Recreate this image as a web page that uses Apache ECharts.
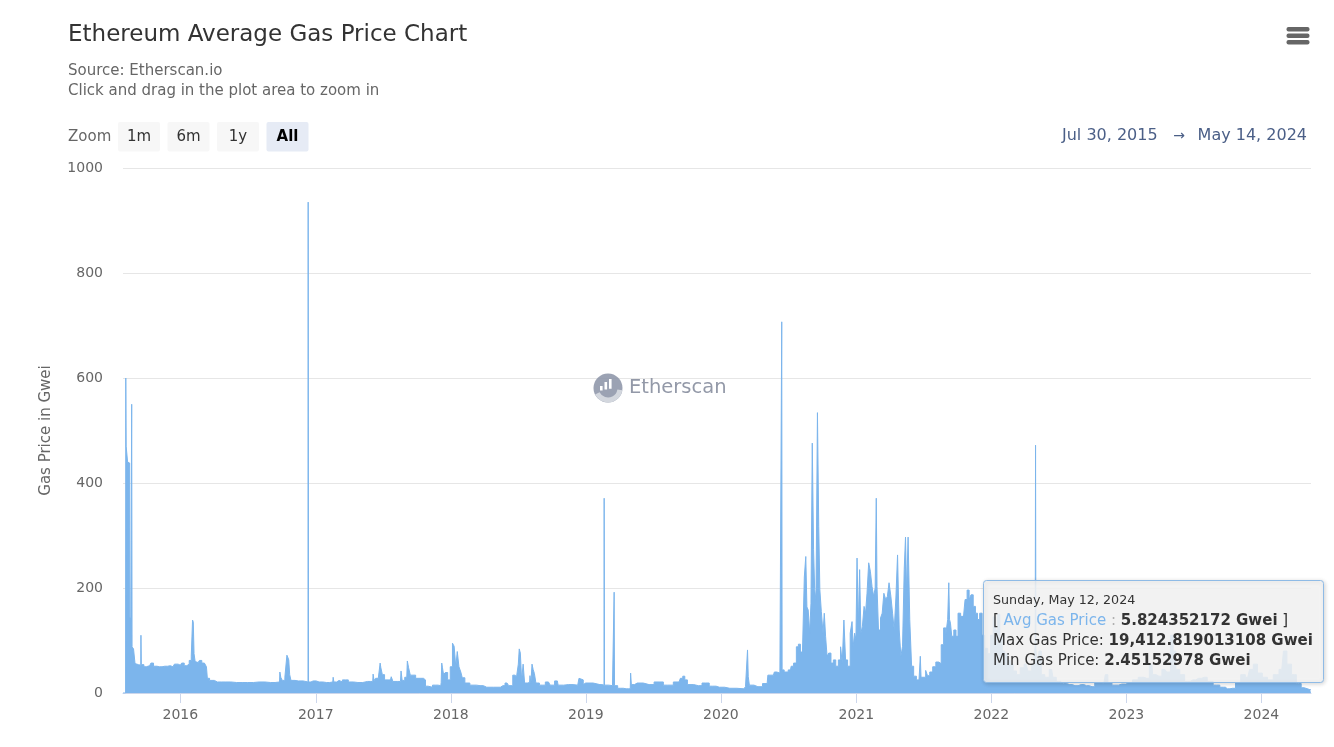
<!DOCTYPE html>
<html>
<head>
<meta charset="utf-8">
<script src="https://cdn.jsdelivr.net/npm/echarts@6/dist/echarts.min.js"></script>
<style>
html,body{margin:0;padding:0;background:#fff;}
#chart{width:1334px;height:747px;}
</style>
</head>
<body>
<div id="chart"></div>
<script>
// ---------------- data ----------------
const dates = [
'2015-07-30','2015-08-06','2015-08-07','2015-08-08','2015-08-11','2015-08-12','2015-08-17','2015-08-18','2015-08-22','2015-08-23',
'2015-08-24','2015-08-31','2015-09-01','2015-09-10','2015-09-16','2015-09-17','2015-09-18','2015-10-01','2015-10-10','2015-10-17',
'2015-10-24','2015-11-05','2015-11-20','2015-12-05','2015-12-12','2015-12-20','2016-01-01','2016-01-08','2016-01-15','2016-01-22',
'2016-01-28','2016-02-02','2016-02-04','2016-02-06','2016-02-08','2016-02-12','2016-02-18','2016-02-25','2016-03-02','2016-03-10',
'2016-03-13','2016-03-15','2016-03-25','2016-04-10','2016-05-01','2016-06-01','2016-07-01','2016-08-01','2016-09-01','2016-09-25',
'2016-09-27','2016-09-30','2016-10-05','2016-10-14','2016-10-16','2016-10-19','2016-10-21','2016-10-24','2016-10-28','2016-11-15',
'2016-12-11','2016-12-12','2016-12-13','2016-12-25','2017-01-10','2017-01-30','2017-02-16','2017-02-18','2017-02-20','2017-03-05',
'2017-03-10','2017-03-18','2017-03-28','2017-04-01','2017-04-25','2017-05-21','2017-06-04','2017-06-06','2017-06-09','2017-06-15',
'2017-06-23','2017-06-25','2017-06-27','2017-07-03','2017-07-09','2017-07-22','2017-07-26','2017-07-31','2017-08-18','2017-08-21',
'2017-08-24','2017-09-04','2017-09-07','2017-09-11','2017-09-16','2017-09-25','2017-10-01','2017-10-19','2017-10-22','2017-10-27',
'2017-11-05','2017-11-20','2017-12-05','2017-12-07','2017-12-08','2017-12-11','2017-12-14','2017-12-20','2017-12-27','2018-01-03',
'2018-01-08','2018-01-12','2018-01-17','2018-01-20','2018-01-26','2018-01-30','2018-02-03','2018-02-13','2018-03-02','2018-03-21',
'2018-04-08','2018-05-15','2018-05-22','2018-06-02','2018-06-11','2018-06-24','2018-07-01','2018-07-04','2018-07-06','2018-07-10',
'2018-07-13','2018-07-18','2018-07-21','2018-08-02','2018-08-04','2018-08-07','2018-08-10','2018-08-13','2018-08-17','2018-08-21',
'2018-09-05','2018-09-22','2018-10-01','2018-10-16','2018-10-20','2018-11-15','2018-12-10','2018-12-17','2018-12-20','2018-12-30',
'2019-01-02','2019-02-08','2019-02-19','2019-02-20','2019-02-21','2019-03-14','2019-03-18','2019-03-19','2019-03-20','2019-04-05',
'2019-04-20','2019-05-01','2019-05-03','2019-05-05','2019-05-20','2019-06-21','2019-07-18','2019-08-10','2019-09-10','2019-09-17',
'2019-09-23','2019-09-28','2019-10-07','2019-11-01','2019-11-21','2019-12-10','2019-12-28','2020-01-25','2020-03-03','2020-03-12',
'2020-03-14','2020-03-16','2020-03-20','2020-04-10','2020-05-05','2020-05-09','2020-05-22','2020-05-27','2020-06-04','2020-06-13',
'2020-06-14','2020-06-15','2020-06-25','2020-07-07','2020-07-11','2020-07-20','2020-07-26','2020-07-31','2020-08-06','2020-08-11',
'2020-08-16','2020-08-19','2020-08-22','2020-08-26','2020-08-30','2020-09-02','2020-09-06','2020-09-09','2020-09-12','2020-09-16',
'2020-09-20','2020-09-23','2020-09-26','2020-10-01','2020-10-05','2020-10-08','2020-10-12','2020-10-16','2020-10-21','2020-10-28',
'2020-11-03','2020-11-10','2020-11-17','2020-11-22','2020-11-26','2020-12-01','2020-12-05','2020-12-12','2020-12-19','2020-12-22',
'2020-12-25','2020-12-30','2021-01-01','2021-01-05','2021-01-08','2021-01-12','2021-01-15','2021-01-20','2021-01-24','2021-01-28',
'2021-02-01','2021-02-06','2021-02-10','2021-02-15','2021-02-19','2021-02-23','2021-02-25','2021-02-27','2021-03-05','2021-03-10',
'2021-03-14','2021-03-19','2021-03-24','2021-03-28','2021-04-02','2021-04-07','2021-04-11','2021-04-16','2021-04-20','2021-04-25',
'2021-04-29','2021-05-04','2021-05-08','2021-05-13','2021-05-15','2021-05-19','2021-05-23','2021-05-28','2021-06-02','2021-06-08',
'2021-06-17','2021-06-22','2021-06-24','2021-06-26','2021-07-05','2021-07-10','2021-07-15','2021-07-22','2021-07-31','2021-08-08',
'2021-08-15','2021-08-22','2021-08-28','2021-09-03','2021-09-07','2021-09-09','2021-09-11','2021-09-14','2021-09-18','2021-09-25',
'2021-09-30','2021-10-06','2021-10-14','2021-10-20','2021-10-24','2021-10-31','2021-11-04','2021-11-10','2021-11-16','2021-11-22',
'2021-11-27','2021-12-04','2021-12-10','2021-12-18','2021-12-26','2022-01-03','2022-01-09','2022-01-15','2022-01-21','2022-01-27',
'2022-02-03','2022-02-10','2022-02-17','2022-02-25','2022-03-05','2022-03-15','2022-03-25','2022-04-05','2022-04-15','2022-04-25',
'2022-04-29','2022-04-30','2022-05-01','2022-05-02','2022-05-08','2022-05-12','2022-05-20','2022-05-31','2022-06-13','2022-06-20',
'2022-07-01','2022-07-15','2022-08-01','2022-08-15','2022-09-01','2022-09-15','2022-09-30','2022-10-15','2022-11-01','2022-11-09',
'2022-11-15','2022-12-01','2022-12-20','2023-01-10','2023-01-25','2023-02-10','2023-02-25','2023-03-11','2023-03-15','2023-03-30',
'2023-04-15','2023-04-25','2023-05-05','2023-05-10','2023-05-20','2023-05-31','2023-06-15','2023-06-30','2023-07-15','2023-07-31',
'2023-08-15','2023-09-01','2023-09-20','2023-10-01','2023-10-15','2023-10-31','2023-11-12','2023-11-25','2023-12-05','2023-12-15',
'2023-12-28','2024-01-10','2024-01-25','2024-02-10','2024-02-25','2024-03-05','2024-03-15','2024-03-30','2024-04-10','2024-04-25',
'2024-05-05','2024-05-12','2024-05-13','2024-05-14'
];
const avgGasPrice = [
0,0,600,470,472,440,438,145,140,550,
88,84,56,54,53,110,54,50,52,57,
51,50,51,52,50,55,53,57,52,55,
62,70,139,135,75,60,58,62,57,58,
50,28,24,21,21,20,20,21,20,21,
40,30,24,30,72,68,63,35,24,23,
21,935,21,23,21,20,21,30,21,24,
21,25,25,21,20,22,22,36,24,28,
30,57,48,35,25,25,31,22,22,42,
24,30,61,48,34,34,28,28,25,13,
11,15,14,20,57,48,35,39,25,50,
95,89,50,79,50,40,29,19,15,14,
11,11,14,19,14,34,30,55,84,76,
24,55,19,20,33,18,55,45,37,19,
15,21,15,23,15,16,15,28,25,16,
19,16,15,371,15,14,14,192,14,9,
8,8,38,16,19,16,21,15,21,28,
32,25,16,14,19,13,11,9,8,12,
82,31,15,12,18,34,34,40,38,42,
707,44,40,44,51,57,88,93,78,76,
221,260,164,158,114,171,476,273,197,178,
534,317,197,155,114,152,108,70,76,57,
63,51,63,88,57,139,63,51,114,136,
88,114,102,257,127,235,114,127,165,152,
190,248,232,203,184,200,371,203,120,143,
152,190,178,184,210,184,152,120,181,263,
120,70,89,235,297,190,297,140,51,32,
25,26,70,30,30,43,33,40,50,59,
56,92,124,112,140,210,140,133,108,120,
108,152,146,140,178,196,178,187,165,152,
140,152,110,85,75,110,145,120,150,105,
80,75,62,55,42,35,48,55,42,55,
70,90,472,85,55,80,35,30,45,30,
22,18,16,14,16,14,12,20,18,35,
20,15,17,20,25,30,28,55,35,32,
45,40,110,80,45,35,22,25,28,30,
22,15,11,8,9,20,35,30,45,55,
38,30,25,35,45,80,55,35,18,10,
8,5.824352172,7.5,6
];
const yTicks = [0, 200, 400, 600, 800, 1000];
const yearTicks = ['2016-01-01','2017-01-01','2018-01-01','2019-01-01','2020-01-01','2021-01-01','2022-01-01','2023-01-01','2024-01-01'];
const xRange = ['2015-07-30', '2024-05-14'];
const zoomButtons = ['1m', '6m', '1y', 'All'];
const tipDate = '2024-05-12';
const tipMaxGas = '19,412.819013108';
const tipMinGas = '2.45152978';

// ---------------- helpers ----------------
function day(s) { const p = s.split('-').map(Number); return new Date(p[0], p[1] - 1, p[2]).getTime(); }
const seriesData = dates.map((d, i) => [day(d), avgGasPrice[i]]);
const yearTs = yearTicks.map(day);

const FONT = 'DejaVu Sans';
const tipIdx = dates.indexOf(tipDate);
const tipD = new Date(day(tipDate));
const dayNames = ['Sunday','Monday','Tuesday','Wednesday','Thursday','Friday','Saturday'];
const monNames = ['Jan','Feb','Mar','Apr','May','Jun','Jul','Aug','Sep','Oct','Nov','Dec'];
const tipHeader = dayNames[tipD.getDay()] + ', ' + monNames[tipD.getMonth()] + ' ' + tipD.getDate() + ', ' + tipD.getFullYear();
function fmtRange(s) { const d = new Date(day(s)); return monNames[d.getMonth()] + ' ' + d.getDate() + ', ' + d.getFullYear(); }

// ---------------- graphic overlays ----------------
const graphics = [];
function txt(x, y, text, opt) {
  const o = Object.assign({ fontSize: 15, fill: '#666', align: 'left', fontWeight: 'normal' }, opt || {});
  return { type: 'text', x: x, y: y, z: 50, silent: true,
    style: { text: text, fontFamily: FONT, fontSize: o.fontSize, fontWeight: o.fontWeight, fill: o.fill,
      align: o.align, textAlign: o.align, verticalAlign: 'middle', textVerticalAlign: 'middle' } };
}
graphics.push(txt(68, 137, 'Zoom', { fill: '#666' }));
zoomButtons.forEach((b, i) => {
  const x0 = 118 + i * 49.5;
  const sel = b === 'All';
  graphics.push({ type: 'rect', z: 49, silent: true, shape: { x: x0, y: 122, width: 42, height: 29.5, r: 2 },
    style: { fill: sel ? '#e6ebf5' : '#f7f7f7' } });
  graphics.push(txt(x0 + 21, 137, b, { align: 'center', fill: sel ? '#000' : '#333', fontWeight: sel ? 'bold' : 'normal' }));
});
graphics.push(txt(1062, 136, fmtRange(xRange[0]), { fontSize: 16, fill: '#4b5f87' }));
graphics.push(txt(1179, 136, '\u2192', { fontSize: 14, fill: '#4b5f87', align: 'center' }));
graphics.push(txt(1307, 136, fmtRange(xRange[1]), { fontSize: 16, fill: '#4b5f87', align: 'right' }));
[27, 33.5, 40].forEach(y => graphics.push({ type: 'rect', z: 50, silent: true,
  shape: { x: 1286.5, y: y, width: 23, height: 4.5, r: 2 }, style: { fill: '#666' } }));
graphics.push({ type: 'circle', z: 1, silent: true, shape: { cx: 608, cy: 388, r: 14.5 }, style: { fill: '#8a92a6', opacity: 0.85 } });
graphics.push({ type: 'sector', z: 1, silent: true, shape: { cx: 608, cy: 388, r: 14.5, r0: 9.5, startAngle: 0.05 * Math.PI, endAngle: 0.85 * Math.PI },
  style: { fill: '#d3d7de' } });
[[600, 386, 6], [604.5, 382, 10], [609, 379, 13]].forEach(b => graphics.push({ type: 'rect', z: 1, silent: true,
  shape: { x: b[0], y: b[1], width: 2.6, height: b[2] * 0.75 }, style: { fill: '#ffffff' } }));
graphics.push({ type: 'text', z: 1, silent: true, x: 629, y: 388,
  style: { text: 'Etherscan', fontFamily: FONT, fontSize: 19.5, fill: '#9399a8', align: 'left', textAlign: 'left', verticalAlign: 'middle', textVerticalAlign: 'middle' } });
graphics.push({ type: 'rect', z: 100, silent: true, shape: { x: 983.5, y: 580.5, width: 340, height: 102, r: 3 },
  style: { fill: 'rgba(247,247,247,0.85)', stroke: '#8fbbe6', lineWidth: 1,
    shadowBlur: 4, shadowColor: 'rgba(0,0,0,0.18)', shadowOffsetX: 1, shadowOffsetY: 1 } });
graphics.push({ type: 'text', z: 101, silent: true, x: 993, y: 591,
  style: {
    text: '{h|' + tipHeader + '}\n' +
          '{n|[ }{k|Avg Gas Price}{c| : }{v|' + avgGasPrice[tipIdx] + ' Gwei}{n| ]}\n' +
          '{n|Max Gas Price: }{v|' + tipMaxGas + ' Gwei}\n' +
          '{n|Min Gas Price: }{v|' + tipMinGas + ' Gwei}',
    fontFamily: FONT, align: 'left', textAlign: 'left', verticalAlign: 'top', textVerticalAlign: 'top',
    rich: {
      h: { fontFamily: FONT, fontSize: 12.7, fill: '#333', lineHeight: 20 },
      n: { fontFamily: FONT, fontSize: 15, fill: '#333', lineHeight: 20 },
      k: { fontFamily: FONT, fontSize: 15, fill: '#7cb5ec', lineHeight: 20 },
      c: { fontFamily: FONT, fontSize: 15, fill: '#b0b0b0', lineHeight: 20 },
      v: { fontFamily: FONT, fontSize: 15, fill: '#333', fontWeight: 'bold', lineHeight: 20 }
    }
  } });

// ---------------- chart ----------------
const chart = echarts.init(document.getElementById('chart'), null, { renderer: 'canvas' });
chart.setOption({
  animation: false,
  backgroundColor: '#ffffff',
  textStyle: { fontFamily: FONT },
  title: {
    left: 68, top: 22, padding: 0, itemGap: 13,
    text: 'Ethereum Average Gas Price Chart',
    textStyle: { fontFamily: FONT, fontSize: 23, fontWeight: 'normal', color: '#333', lineHeight: 26 },
    subtext: 'Source: Etherscan.io\nClick and drag in the plot area to zoom in',
    subtextStyle: { fontFamily: FONT, fontSize: 15, color: '#666', lineHeight: 20 }
  },
  grid: { left: 123, right: 23, top: 168, bottom: 54, containLabel: false },
  xAxis: {
    type: 'value',
    min: day(xRange[0]), max: day(xRange[1]),
    axisLine: { show: true, lineStyle: { color: '#ccd6eb', width: 1 } },
    axisTick: { show: true, length: 10, lineStyle: { color: '#ccd6eb' }, customValues: yearTs },
    axisLabel: { customValues: yearTs, color: '#666', fontSize: 14, margin: 15, fontFamily: FONT,
      formatter: v => String(new Date(v).getFullYear()) },
    splitLine: { show: false }
  },
  yAxis: {
    type: 'value', min: yTicks[0], max: yTicks[yTicks.length - 1], interval: yTicks[1] - yTicks[0],
    name: 'Gas Price in Gwei', nameLocation: 'middle', nameGap: 69, nameRotate: 90,
    nameTextStyle: { color: '#666', fontSize: 15, fontFamily: FONT },
    axisLine: { show: false }, axisTick: { show: false },
    axisLabel: { color: '#666', fontSize: 14, margin: 20, fontFamily: FONT, formatter: v => String(v) },
    splitLine: { lineStyle: { color: '#e6e6e6', width: 1 } }
  },
  series: [{
    name: 'Avg Gas Price',
    type: 'line',
    step: 'middle',
    data: seriesData,
    symbol: 'none', showSymbol: false, silent: true,
    lineStyle: { width: 1, color: '#7cb5ec' },
    itemStyle: { color: '#7cb5ec' },
    areaStyle: { color: '#7cb5ec', opacity: 1 },
    z: 2
  }],
  graphic: { elements: graphics }
});
</script>
</body>
</html>
